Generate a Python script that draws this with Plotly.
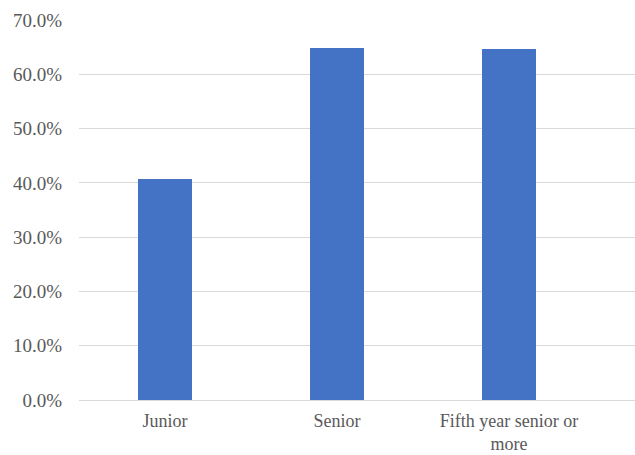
import plotly.graph_objects as go

categories = ["Junior", "Senior", "Fifth year senior or<br>more"]
values = [0.408, 0.649, 0.646]
y_ticks = [0, 0.1, 0.2, 0.3, 0.4, 0.5, 0.6, 0.7]

FONT = "Times New Roman, Liberation Serif, serif"

fig = go.Figure(go.Bar(
    x=list(range(len(categories))),
    y=values,
    marker=dict(color="#4472C4", line=dict(width=0)),
    width=0.314,
))

fig.update_layout(
    width=635, height=455,
    margin=dict(l=79, r=0, t=20, b=55),
    paper_bgcolor="white", plot_bgcolor="white",
    font=dict(family=FONT, size=19, color="#595959"),
    showlegend=False,
    bargap=0,
)
fig.update_xaxes(
    tickmode="array",
    tickvals=list(range(len(categories))),
    ticktext=categories,
    range=[-0.5, 2.733],
    showgrid=False,
    showline=True, linecolor="#d9d9d9", linewidth=1,
    ticks="", tickfont=dict(family=FONT, size=18, color="#595959"),
    ticklabelstandoff=4,
    zeroline=False,
    automargin=False,
)
fig.update_yaxes(
    range=[0, 0.7],
    tickvals=y_ticks,
    tickformat=".1%",
    showgrid=True, gridcolor="#d9d9d9", gridwidth=1,
    zeroline=False, showline=False,
    ticks="", ticklabelstandoff=16,
    tickfont=dict(family=FONT, size=19, color="#595959"),
    automargin=False,
)

fig.write_html("out.html")
